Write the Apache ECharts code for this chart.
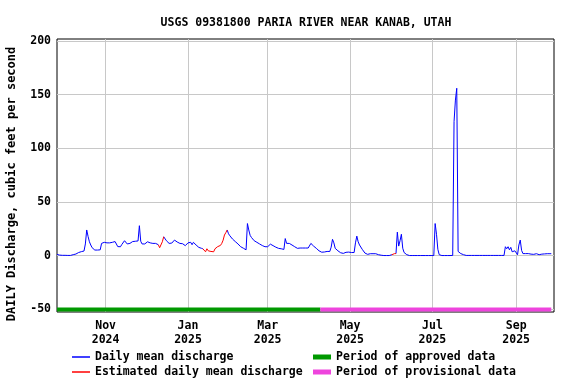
<!DOCTYPE html>
<html>
<head>
<meta charset="utf-8">
<script src="https://cdn.jsdelivr.net/npm/echarts@6/dist/echarts.min.js"></script>
<style>
  html, body { margin: 0; padding: 0; background: #fff; }
  #chart { width: 576px; height: 384px; }
</style>
</head>
<body>
<div id="chart"></div>
<script>
// 标题和坐标轴文字
const titleText = 'USGS 09381800 PARIA RIVER NEAR KANAB, UTAH';
const yAxisName = 'DAILY Discharge, cubic feet per second';

// 日均流量 (cfs)，从 firstDay 开始每天一个值
const firstDay = '2024-09-26';
const flowSep2024 = [1.2, 0.9, 0.6, 0.5, 0.4];
const flowOct2024 = [0.4, 0.4, 0.3, 0.3, 0.3, 0.3, 0.4, 1.0, 1.4, 1.6, 2.0, 3.0, 3.7, 3.8, 4.0, 4.4,
  11, 24, 18, 13, 10, 7.5, 5.8, 5.3, 5.3, 5.3, 5.3, 5.5, 11.5, 11.8, 12.5];
const flowNov2024 = [13.5, 12, 11.5, 12, 12.8, 12.5, 13, 13.2, 13, 8.5, 6.9, 8.4, 10.5, 12, 14,
  13.5, 11, 10.3, 11.5, 12.5, 13.2, 13, 13.5, 13.5, 13.8, 28, 13.5, 11, 10.3, 11];
const flowDec2024 = [12, 13, 13, 12, 11.5, 11.5, 11.5, 11.5, 10.5, 10.3, 7.5, 7.5, 13, 17.7, 16,
  14, 12.5, 11.5, 11.2, 11.8, 13, 14.6, 13.2, 12.8, 12, 11.5, 11, 11.2, 11, 9.4, 10.5];
const flowJan2025 = [12, 12, 12.5, 10.3, 12.5, 11, 10, 8.4, 7.8, 7.2, 6.9, 6.5, 5.9, 3.7, 6.5,
  4.6, 4.6, 4, 3.7, 3.7, 6.5, 7.8, 8.5, 9.4, 9.6, 11.5, 14.5, 19.3, 21.5, 24, 20.5];
const flowFeb2025 = [18.6, 17, 15.5, 14.9, 13.2, 12, 11, 10.3, 8.4, 8.4, 7, 5.3, 5.5, 30,
  24, 19, 17, 16, 14, 13.2, 12.5, 11.5, 11, 10.3, 9.5, 9, 8.4, 8.4];
const flowMar2025 = [8.4, 9.5, 10.8, 10, 9.4, 8.4, 8, 7.5, 6.9, 6.9, 6.5, 6, 5.9, 16, 11.5,
  12, 11.5, 10.8, 10, 9, 8.4, 7.5, 6.9, 6.9, 7.2, 7.2, 7.2, 7.2, 7.2, 7.2, 7.2];
const flowApr2025 = [9, 11.5, 10.3, 9, 8, 6.9, 5.5, 4.6, 4, 3.3, 3.3, 3.5, 3.7, 4, 4,
  4, 8, 15.3, 12, 6.9, 5.5, 4.6, 3.5, 2.8, 2.4, 2.2, 1.9, 3.2, 3.4, 3.4];
const flowMay2025 = [3.4, 3, 2.8, 3, 12, 18.3, 13, 10, 8.4, 6, 4.5, 2.5, 1, 1.3, 1.6,
  1.9, 1.9, 1.9, 1.9, 1.9, 1.5, 1, 0.9, 0.5, 0.3, 0.2, 0.2, 0.2, 0.2, 0.2, 0.2];
const flowJun2025 = [1, 2, 2, 2, 22, 9, 14, 20, 7, 3, 2, 1, 0.5, 0.2, 0.2,
  0.2, 0.2, 0.2, 0.2, 0.2, 0.2, 0.2, 0.2, 0.2, 0.2, 0.2, 0.2, 0.2, 0.2, 0.2];
const flowJul2025 = [0.2, 0.2, 30, 20, 6, 1, 0.3, 0.2, 0.2, 0.2, 0.2, 0.2, 0.2, 0.2, 0.2,
  0.3, 125, 145, 156, 4, 3.5, 2, 1.5, 1, 0.5, 0.3, 0.3, 0.3, 0.3, 0.3, 0.3];
const flowAug2025 = [0.3, 0.3, 0.3, 0.3, 0.3, 0.3, 0.3, 0.3, 0.3, 0.3, 0.3, 0.3, 0.3, 0.3, 0.3,
  0.3, 0.3, 0.3, 0.3, 0.3, 0.3, 0.3, 0.3, 8.4, 6.5, 8.4, 5.5, 7.8, 3.7, 2, 4.6];
const flowSep2025 = [3.4, 1, 10, 14.6, 5, 2, 2, 2, 2, 2, 2, 1.5, 1, 1.3, 1.9,
  1.9, 1.5, 1, 1.2, 1.5, 1.5, 1.7, 1.9, 1.9, 1.9, 1.9, 1.9];

// 估算值的日期段 (红线)
const estimatedSpans = [
  ['2024-12-10', '2024-12-14'],
  ['2025-01-12', '2025-01-30'],
  ['2025-06-01', '2025-06-04']
];

// 数据审核状态
const approvedPeriod = ['2024-09-26', '2025-04-09'];
const provisionalPeriod = ['2025-04-09', '2025-09-27'];
const periodLevel = -50;

// 坐标轴范围和刻度
const xRange = ['2024-09-26', '2025-09-29'];
const xTickDates = ['2024-11-01', '2025-01-01', '2025-03-01', '2025-05-01', '2025-07-01', '2025-09-01'];
const xTickLabels = ['Nov\n2024', 'Jan\n2025', 'Mar\n2025', 'May\n2025', 'Jul\n2025', 'Sep\n2025'];
const yTicks = [-50, 0, 50, 100, 150, 200];

(function() {
  const DAY = 86400000;
  const FONT = '"DejaVu Sans Mono", "Liberation Mono", monospace';
  const t0 = Date.parse(firstDay);
  // 日期 -> 距 firstDay 的天数（x 轴用天数的数值轴）
  const dayOf = function(d) { return Math.round((Date.parse(d) - t0) / DAY); };

  const flow = [].concat(flowSep2024, flowOct2024, flowNov2024, flowDec2024, flowJan2025,
    flowFeb2025, flowMar2025, flowApr2025, flowMay2025, flowJun2025, flowJul2025,
    flowAug2025, flowSep2025);

  const spans = estimatedSpans.map(function(s) { return [dayOf(s[0]), dayOf(s[1])]; });
  const isEstimated = function(i) {
    return spans.some(function(s) { return i >= s[0] && i <= s[1]; });
  };

  // 蓝线：估算段内部断开，只保留段两端的点；红线：只画估算段
  const dailyData = flow.map(function(v, i) {
    const inner = isEstimated(i) && isEstimated(i - 1) && isEstimated(i + 1);
    return [i, inner ? '-' : v];
  });
  const estData = flow.map(function(v, i) { return [i, isEstimated(i) ? v : '-']; });

  const xTicks = xTickDates.map(dayOf);

  const chart = echarts.init(document.getElementById('chart'), null, { renderer: 'canvas' });

  const lineSeries = function(name, data, color, width) {
    return {
      name: name,
      type: 'line',
      data: data,
      symbol: 'none',
      connectNulls: false,
      lineStyle: { color: color, width: width },
      itemStyle: { color: color },
      emphasis: { disabled: true },
      animation: false
    };
  };

  const legendText = { fontFamily: FONT, fontWeight: 'bold', fontSize: 11.5, color: '#000' };

  chart.setOption({
    animation: false,
    backgroundColor: '#fff',
    title: {
      text: titleText,
      left: 301,
      textAlign: 'center',
      top: 12,
      textStyle: { fontFamily: FONT, fontWeight: 'bold', fontSize: 11.5, color: '#000' }
    },
    legend: [{
      orient: 'vertical',
      left: 72,
      top: 351,
      padding: 0,
      itemGap: 3,
      itemWidth: 18,
      itemHeight: 1.5,
      icon: 'rect',
      textStyle: legendText,
      data: ['Daily mean discharge', 'Estimated daily mean discharge'],
      selectedMode: false
    }, {
      orient: 'vertical',
      left: 313,
      top: 351,
      padding: 0,
      itemGap: 3,
      itemWidth: 18,
      itemHeight: 5,
      icon: 'rect',
      textStyle: legendText,
      data: ['Period of approved data', 'Period of provisional data'],
      selectedMode: false
    }],
    grid: {
      left: 57,
      right: 22,
      top: 39,
      bottom: 72,
      show: true,
      borderColor: '#000',
      borderWidth: 1,
      backgroundColor: '#fff'
    },
    xAxis: {
      type: 'value',
      min: dayOf(xRange[0]),
      max: dayOf(xRange[1]),
      axisLine: { show: false },
      axisTick: { show: false, customValues: xTicks },
      splitLine: { show: true, lineStyle: { color: '#c8c8c8', width: 1 } },
      axisLabel: {
        customValues: xTicks,
        margin: 7,
        lineHeight: 14,
        fontFamily: FONT,
        fontWeight: 'bold',
        fontSize: 11.5,
        color: '#000',
        formatter: function(val) {
          const idx = xTicks.indexOf(Math.round(val));
          return idx >= 0 ? xTickLabels[idx] : '';
        }
      }
    },
    yAxis: {
      type: 'value',
      min: -52.4,
      max: 201.9,
      axisLine: { show: false },
      axisTick: { show: false, customValues: yTicks },
      splitLine: { show: true, lineStyle: { color: '#c8c8c8', width: 1 } },
      axisLabel: {
        customValues: yTicks,
        margin: 6,
        fontFamily: FONT,
        fontWeight: 'bold',
        fontSize: 11.5,
        color: '#000'
      }
    },
    graphic: [{
      type: 'text',
      x: 12,
      y: 184,
      rotation: Math.PI / 2,
      silent: true,
      style: {
        text: yAxisName,
        fill: '#000',
        font: 'bold 12px ' + FONT,
        align: 'center',
        verticalAlign: 'middle',
        textAlign: 'center',
        textVerticalAlign: 'middle'
      }
    }],
    series: [
      lineSeries('Daily mean discharge', dailyData, '#0000ff', 1),
      lineSeries('Estimated daily mean discharge', estData, '#ff0000', 1),
      lineSeries('Period of approved data',
        approvedPeriod.map(function(d) { return [dayOf(d), periodLevel]; }), '#009900', 4),
      lineSeries('Period of provisional data',
        provisionalPeriod.map(function(d) { return [dayOf(d), periodLevel]; }), '#ee44dd', 4)
    ]
  });
})();
</script>
</body>
</html>
